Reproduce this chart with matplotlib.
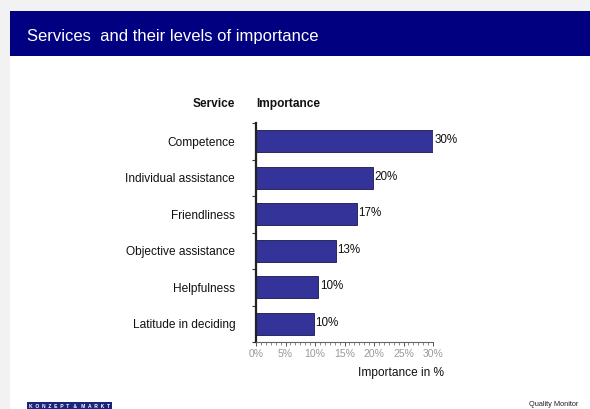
import numpy as np
import matplotlib.pyplot as plt
from matplotlib.patches import Rectangle

services = ["Competence", "Individual assistance", "Friendliness",
            "Objective assistance", "Helpfulness", "Latitude in deciding"]
importance = [30, 19.8, 17.1, 13.5, 10.5, 9.8]
value_labels = ["30%", "20%", "17%", "13%", "10%", "10%"]
x_ticks = [0, 5, 10, 15, 20, 25, 30]
x_tick_labels = ["0%", "5%", "10%", "15%", "20%", "25%", "30%"]

plt.rcParams['font.family'] = ['Liberation Sans', 'DejaVu Sans']

W, H = 590, 409
fig = plt.figure(figsize=(W / 100, H / 100), dpi=100)
fig.patch.set_facecolor("#f2f2f2")

# page + header band
fig.add_artist(Rectangle((10 / W, 0), 1 - 10 / W, 1 - 11 / H, zorder=-10,
                         transform=fig.transFigure, facecolor="white", edgecolor="none"))
fig.add_artist(Rectangle((10 / W, 1 - 56 / H), 1 - 10 / W, 45 / H, zorder=-9,
                         transform=fig.transFigure, facecolor="#000080", edgecolor="none"))
fig.text(27 / W, 1 - 36 / H, "Services  and their levels of importance",
         color="white", fontsize=12, va="center", ha="left")

ax = fig.add_axes([256 / W, 1 - 342 / H, 177 / W, 219 / H])
ax.set_facecolor("none")
y = np.arange(len(services))
ax.barh(y, importance, height=0.6, color="#333399", edgecolor="#2a2a5a", linewidth=0.7)
for yi, v, lab in zip(y, importance, value_labels):
    ax.text(v + 0.3, yi - 0.03, lab, va="center", ha="left", fontsize=8.4, color="#111111")

ax.set_ylim(len(services) - 0.5, -0.5)
ax.set_xlim(0, 30)

ax.set_yticks(y)
ax.set_yticklabels(services, fontsize=8.6, color="#111111")
ax.tick_params(axis="y", which="major", length=0, pad=15)
ax.set_yticks(np.arange(len(services) + 1) - 0.5, minor=True)
ax.tick_params(axis="y", which="minor", length=3, width=0.8, color="#333333")

ax.set_xticks(x_ticks)
ax.set_xticklabels(x_tick_labels, fontsize=7.5, color="#999999")
ax.set_xticks(np.linspace(0, 30, 37), minor=True)
ax.tick_params(axis="x", which="major", length=3, width=0.7, color="#555555", pad=2)
ax.tick_params(axis="x", which="minor", length=2, width=0.6, color="#777777")

for s in ["top", "right"]:
    ax.spines[s].set_visible(False)
ax.spines["left"].set_color("#222222")
ax.spines["left"].set_linewidth(1.6)
ax.spines["bottom"].set_color("#666666")
ax.spines["bottom"].set_linewidth(0.8)

fig.text(235 / W, 1 - 104 / H, "Service", fontsize=8.6, fontweight="bold",
         ha="right", va="center", color="#111111")
fig.text(256 / W, 1 - 104 / H, "Importance", fontsize=8.6, fontweight="bold",
         ha="left", va="center", color="#111111")
fig.text(444 / W, 1 - 373 / H, "Importance in %", fontsize=8.6,
         ha="right", va="center", color="#111111")

# footer
fig.text(29 / W, 1 - 406 / H, "K  O  N  Z  E  P  T   &   M  A  R  K  T", fontsize=3.6,
         color="white", ha="left", va="center", fontweight="bold",
         bbox=dict(boxstyle="square,pad=0.4", facecolor="#1a237e", edgecolor="none"))
fig.text(578 / W, 1 - 404 / H, "Quality Monitor", fontsize=5.3,
         ha="right", va="center", color="#222222")

fig.savefig("out.png", dpi=100)
